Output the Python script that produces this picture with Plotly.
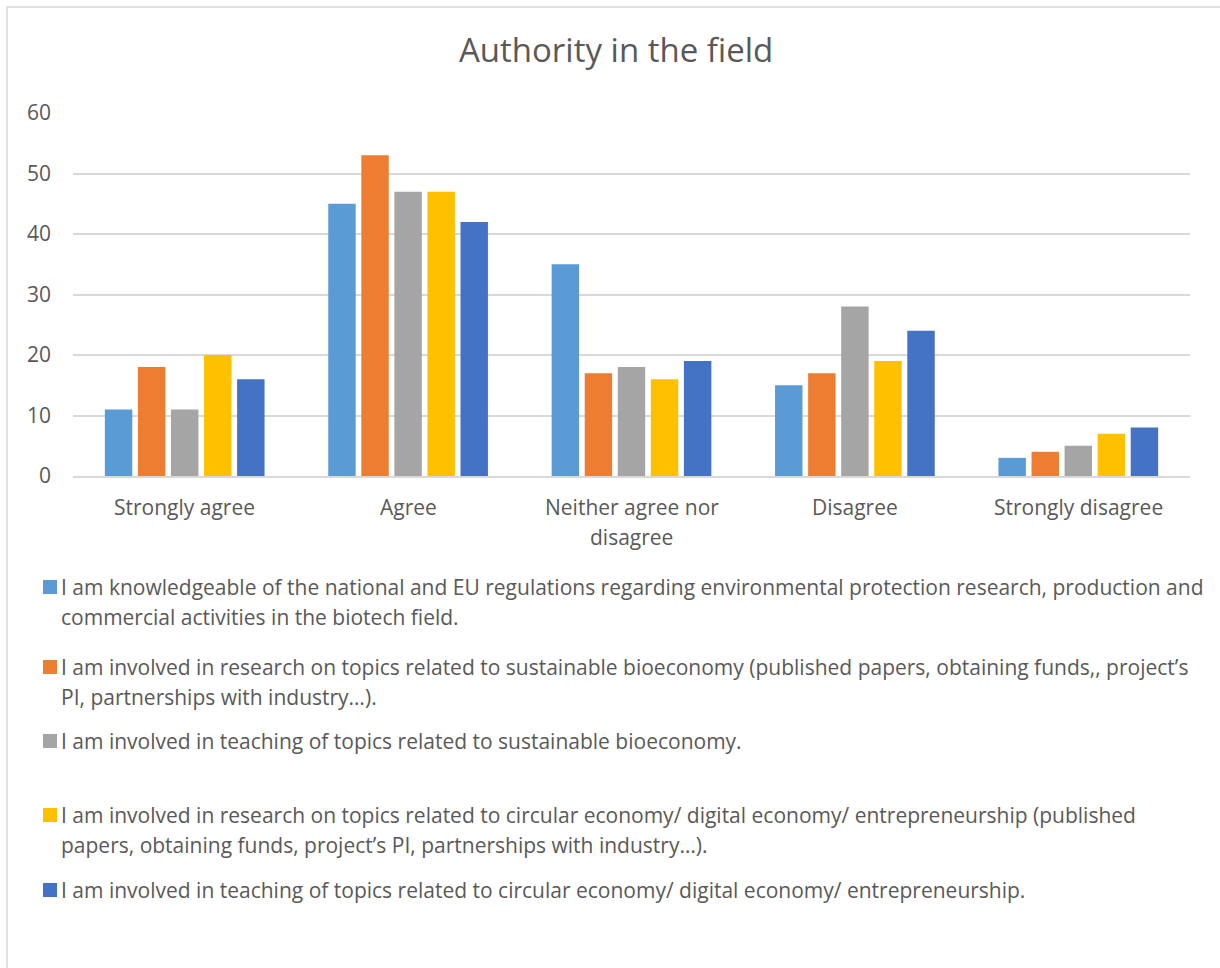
import plotly.graph_objects as go

# Survey responses per agreement level
categories = ["Strongly agree", "Agree", "Neither agree nor disagree", "Disagree", "Strongly disagree"]
category_lines = [["Strongly agree"], ["Agree"], ["Neither agree nor", "disagree"],
                  ["Disagree"], ["Strongly disagree"]]

knowledge_regulations = [11, 45, 35, 15, 3]
research_bioeconomy = [18, 53, 17, 17, 4]
teaching_bioeconomy = [11, 47, 18, 28, 5]
research_circular = [20, 47, 16, 19, 7]
teaching_circular = [16, 42, 19, 24, 8]

series_lines = [
    ["I am knowledgeable of the national and EU regulations regarding environmental protection research, production and",
     "commercial activities in the biotech field."],
    ["I am involved in research on topics related to sustainable bioeconomy (published papers, obtaining funds,, project\u2019s",
     "PI, partnerships with industry\u2026)."],
    ["I am involved in teaching of topics related to sustainable bioeconomy."],
    ["I am involved in research on topics related to circular economy/ digital economy/ entrepreneurship (published",
     "papers, obtaining funds, project\u2019s PI, partnerships with industry\u2026)."],
    ["I am involved in teaching of topics related to circular economy/ digital economy/ entrepreneurship."],
]
series_values = [knowledge_regulations, research_bioeconomy, teaching_bioeconomy,
                 research_circular, teaching_circular]
colors = ["#5B9BD5", "#ED7D31", "#A5A5A5", "#FFC000", "#4472C4"]

W, H = 1220, 968
L, R, T, B = 73, 30, 113, 492
pw, ph = W - L - R, H - T - B


def px(x):
    return (x - L) / pw


def py(y):
    return (H - B - y) / ph


FONT = "Open Sans"
TXT = "#595959"
SIZE = 21
LINE = 30

fig = go.Figure()
for lines, vals, col in zip(series_lines, series_values, colors):
    fig.add_trace(go.Bar(x=categories, y=vals, name=" ".join(lines), marker_color=col,
                         marker_line_width=0, showlegend=False))

shapes = []
annotations = []

# outer chart frame
shapes.append(dict(type="rect", xref="paper", yref="paper",
                   x0=px(7), x1=px(1240), y0=py(7), y1=py(990),
                   line=dict(color="#D9D9D9", width=1.5), layer="below"))

# category labels under the axis
for cat, lines in zip(categories, category_lines):
    for i, line in enumerate(lines):
        annotations.append(dict(xref="x", yref="paper", x=cat, y=py(507 + i * LINE),
                                xanchor="center", yanchor="middle", text=line,
                                showarrow=False,
                                font=dict(family=FONT, size=SIZE, color=TXT)))

# legend drawn below the plot
legend_rows = [587, 667, 741, 815, 890]
for lines, col, yc in zip(series_lines, colors, legend_rows):
    shapes.append(dict(type="rect", xref="paper", yref="paper",
                       x0=px(43), x1=px(57), y0=py(yc - 7), y1=py(yc + 7),
                       fillcolor=col, line=dict(width=0)))
    for i, line in enumerate(lines):
        annotations.append(dict(xref="paper", yref="paper", x=px(59), y=py(yc + i * LINE),
                                xanchor="left", yanchor="middle", align="left",
                                text=line, showarrow=False,
                                font=dict(family=FONT, size=SIZE, color=TXT)))

fig.update_layout(
    width=W, height=H,
    margin=dict(l=L, r=R, t=T, b=B),
    paper_bgcolor="white", plot_bgcolor="white",
    barmode="group", bargap=0.26, bargroupgap=0.17,
    title=dict(text="Authority in the field", x=0.505, xanchor="center",
               y=1 - 50 / H, yanchor="middle",
               font=dict(family=FONT, size=33, color=TXT)),
    font=dict(family=FONT, size=SIZE, color=TXT),
    xaxis=dict(showgrid=False, showline=True, linecolor="#D9D9D9", linewidth=1.5,
               ticks="", showticklabels=False),
    yaxis=dict(range=[0, 60], dtick=10, showgrid=True, gridcolor="#D9D9D9",
               gridwidth=1.5, zeroline=False, showline=False, ticks="",
               ticklabelstandoff=21,
               tickfont=dict(family=FONT, size=SIZE, color=TXT)),
    shapes=shapes,
    annotations=annotations,
)

fig.write_html("out.html")
